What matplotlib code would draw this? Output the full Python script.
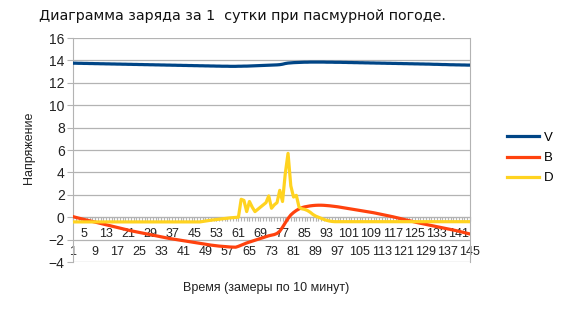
import matplotlib
matplotlib.use("Agg")
import matplotlib.pyplot as plt
from matplotlib.ticker import FixedLocator, MultipleLocator, NullFormatter

# ---- data ----
samples = list(range(1, 146))

V = [13.75, 13.75, 13.74, 13.74, 13.73, 13.73, 13.72, 13.72, 13.71, 13.71,
     13.70, 13.70, 13.69, 13.69, 13.68, 13.68, 13.67, 13.67, 13.66, 13.66,
     13.65, 13.65, 13.64, 13.64, 13.63, 13.63, 13.62, 13.62, 13.61, 13.61,
     13.60, 13.60, 13.59, 13.59, 13.58, 13.58, 13.57, 13.57, 13.56, 13.56,
     13.55, 13.55, 13.54, 13.54, 13.53, 13.53, 13.52, 13.52, 13.51, 13.51,
     13.50, 13.50, 13.49, 13.49, 13.48, 13.48, 13.48, 13.47, 13.47, 13.47,
     13.48, 13.48, 13.49, 13.49, 13.50, 13.51, 13.52, 13.53, 13.54, 13.55,
     13.56, 13.57, 13.58, 13.59, 13.60, 13.62, 13.66, 13.72, 13.76, 13.78,
     13.80, 13.81, 13.82, 13.83, 13.84, 13.84, 13.85, 13.85, 13.85, 13.85,
     13.85, 13.85, 13.84, 13.84, 13.84, 13.83, 13.83, 13.83, 13.82, 13.82,
     13.81, 13.81, 13.80, 13.80, 13.79, 13.79, 13.78, 13.78, 13.77, 13.77,
     13.76, 13.76, 13.75, 13.75, 13.74, 13.74, 13.73, 13.73, 13.72, 13.72,
     13.71, 13.71, 13.70, 13.70, 13.69, 13.69, 13.68, 13.68, 13.67, 13.67,
     13.66, 13.65, 13.65, 13.64, 13.63, 13.63, 13.62, 13.61, 13.61, 13.60,
     13.60, 13.59, 13.59, 13.58, 13.58]

B = [0.05, -0.02, -0.08, -0.14, -0.20, -0.26, -0.32, -0.38, -0.44, -0.50,
     -0.56, -0.62, -0.68, -0.74, -0.80, -0.86, -0.92, -0.98, -1.04, -1.10,
     -1.16, -1.21, -1.26, -1.31, -1.36, -1.41, -1.46, -1.51, -1.56, -1.61,
     -1.66, -1.71, -1.76, -1.81, -1.86, -1.90, -1.94, -1.98, -2.02, -2.06,
     -2.10, -2.14, -2.18, -2.22, -2.26, -2.30, -2.34, -2.38, -2.42, -2.46,
     -2.49, -2.52, -2.55, -2.58, -2.60, -2.62, -2.64, -2.66, -2.67, -2.68,
     -2.60, -2.50, -2.40, -2.30, -2.22, -2.14, -2.06, -1.98, -1.90, -1.82,
     -1.74, -1.66, -1.60, -1.55, -1.45, -1.25, -0.90, -0.50, -0.12, 0.20,
     0.42, 0.60, 0.74, 0.85, 0.92, 0.97, 1.01, 1.04, 1.06, 1.07,
     1.07, 1.06, 1.04, 1.02, 0.99, 0.96, 0.93, 0.89, 0.85, 0.81,
     0.77, 0.73, 0.69, 0.65, 0.61, 0.57, 0.53, 0.49, 0.45, 0.40,
     0.35, 0.30, 0.25, 0.20, 0.15, 0.10, 0.04, -0.02, -0.08, -0.14,
     -0.20, -0.26, -0.32, -0.38, -0.44, -0.49, -0.54, -0.59, -0.64, -0.69,
     -0.74, -0.79, -0.84, -0.89, -0.94, -0.99, -1.04, -1.09, -1.14, -1.20,
     -1.26, -1.32, -1.38, -1.44, -1.50]

D = [-0.42, -0.42, -0.42, -0.42, -0.42, -0.42, -0.42, -0.42, -0.42, -0.42,
     -0.42, -0.42, -0.42, -0.42, -0.42, -0.42, -0.42, -0.42, -0.42, -0.42,
     -0.42, -0.42, -0.42, -0.42, -0.42, -0.42, -0.42, -0.42, -0.42, -0.42,
     -0.42, -0.42, -0.42, -0.42, -0.42, -0.42, -0.42, -0.42, -0.42, -0.42,
     -0.42, -0.42, -0.42, -0.42, -0.42, -0.42, -0.42, -0.38, -0.34, -0.30,
     -0.27, -0.24, -0.21, -0.18, -0.15, -0.12, -0.09, -0.06, -0.04, -0.02,
     0.00, 1.60, 1.50, 0.50, 1.40, 0.90, 0.50, 0.70, 0.90, 1.10,
     1.30, 1.90, 0.80, 1.10, 1.30, 2.40, 1.40, 3.90, 5.70, 2.80,
     1.80, 1.95, 0.90, 0.75, 0.70, 0.60, 0.45, 0.25, 0.10, 0.00,
     -0.10, -0.20, -0.28, -0.34, -0.38, -0.40, -0.40, -0.40, -0.40, -0.40,
     -0.40, -0.40, -0.40, -0.40, -0.40, -0.40, -0.40, -0.40, -0.40, -0.40,
     -0.40, -0.40, -0.40, -0.40, -0.40, -0.40, -0.40, -0.40, -0.40, -0.40,
     -0.40, -0.40, -0.40, -0.40, -0.40, -0.40, -0.40, -0.40, -0.40, -0.40,
     -0.40, -0.40, -0.40, -0.40, -0.40, -0.40, -0.40, -0.40, -0.40, -0.40,
     -0.40, -0.40, -0.40, -0.40, -0.40]

series_names = ["V", "B", "D"]
lower_row_ticks = list(range(1, 146, 8))   # 1, 9, 17, ...
upper_row_ticks = list(range(5, 146, 8))   # 5, 13, 21, ...
title = "Диаграмма заряда за 1  сутки при пасмурной погоде."
xlabel = "Время (замеры по 10 минут)"
ylabel = "Напряжение"

# ---- figure ----
plt.rcParams['font.family'] = ['Liberation Sans', 'DejaVu Sans']
fig = plt.figure(figsize=(5.64, 3.17), dpi=100)
ax = fig.add_axes([73/564, 1-262/317, (470-73)/564, (262-38)/317])

colors = ["#004586", "#ff420e", "#ffd320"]
ax.plot(samples, V, color=colors[0], lw=2.3, label=series_names[0], zorder=3)
ax.plot(samples, B, color=colors[1], lw=2.3, label=series_names[1], zorder=3)
ax.plot(samples, D, color=colors[2], lw=2.3, label=series_names[2], zorder=3)

ax.set_xlim(1, 145)
ax.set_ylim(-4, 16)
ax.yaxis.set_major_locator(MultipleLocator(2))
ax.grid(axis='y', color='#b3b3b3', lw=0.9)
ax.set_axisbelow(True)

ax.spines['top'].set_visible(False)
ax.spines['left'].set_color('#b3b3b3')
ax.spines['right'].set_color('#b3b3b3')
ax.spines['bottom'].set_position(('data', 0))
ax.spines['bottom'].set_color('#b3b3b3')

# staggered category labels: lower row on major ticks, upper row on minor ticks
ax.xaxis.set_major_locator(FixedLocator(lower_row_ticks))
ax.set_xticklabels([str(v) for v in lower_row_ticks])
ax.xaxis.set_minor_locator(FixedLocator(upper_row_ticks))
ax.set_xticklabels([str(v) for v in upper_row_ticks], minor=True)
ax.tick_params(axis='x', which='major', direction='out', length=3, color='#b3b3b3',
               labelsize=9, pad=18, labelcolor='#222222')
ax.tick_params(axis='x', which='minor', direction='out', length=3, color='#b3b3b3',
               labelsize=9, pad=5, labelcolor='#222222')
ax.tick_params(axis='y', direction='out', length=4, color='#b3b3b3',
               labelsize=10, pad=2, labelcolor='#222222')

# tick marks at every category along the zero line
sec = ax.secondary_xaxis(0.2)
sec.spines['bottom'].set_visible(False)
sec.xaxis.set_major_locator(MultipleLocator(1))
sec.xaxis.set_major_formatter(NullFormatter())
sec.tick_params(axis='x', direction='out', length=3, color='#b3b3b3')

fig.text(242/564, 1-16/317, title, ha='center', va='center', fontsize=10.3,
         family=['DejaVu Sans'], color='#111111')
fig.text(266/564, 1-288/317, xlabel, ha='center', va='center', fontsize=9, color='#222222')
fig.text(29/564, 1-148/317, ylabel, ha='center', va='center', fontsize=9,
         rotation=90, color='#222222')

fig.legend(loc='center left', bbox_to_anchor=(495/564, 1-158/317), frameon=False,
           fontsize=9.5, handlelength=2.4, labelspacing=0.6, handletextpad=0.4)

fig.savefig("out.png", dpi=100)
